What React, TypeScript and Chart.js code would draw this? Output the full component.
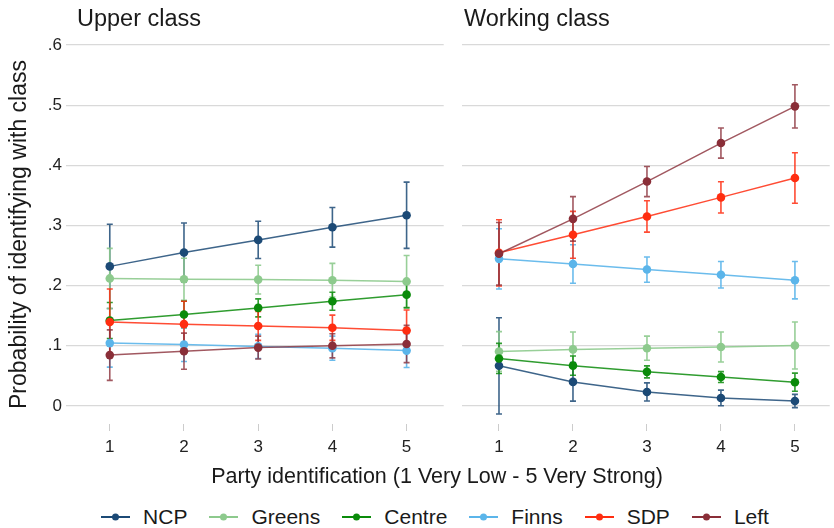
import React, { useEffect, useRef } from 'react';
import { Chart, registerables } from 'chart.js';

Chart.register(...registerables);

// ---------- data ----------
const parties = ['NCP', 'Greens', 'Centre', 'Finns', 'SDP', 'Left'];
const partyColors = ['#1c4a76', '#8dca8d', '#0a8b0a', '#5bb5ea', '#ff2d10', '#8a2e38'];
const partyLineColors = ['rgba(28,74,118,0.85)', 'rgba(141,202,141,0.9)', 'rgba(10,139,10,0.85)', 'rgba(91,181,234,0.9)', 'rgba(255,45,16,0.85)', 'rgba(138,46,56,0.8)'];
const xValues = [1, 2, 3, 4, 5];
const yTicks = [0, 0.1, 0.2, 0.3, 0.4, 0.5, 0.6];
const panelTitles = ['Upper class', 'Working class'];
const yAxisTitle = 'Probability of identifying with class';
const xAxisTitle = 'Party identification (1 Very Low - 5 Very Strong)';

// Upper class: predicted probabilities and CI half-widths
const upNCP = [0.232, 0.255, 0.276, 0.297, 0.317];
const upNCPci = [0.07, 0.049, 0.031, 0.033, 0.055];
const upGreens = [0.212, 0.2105, 0.21, 0.209, 0.207];
const upGreensCi = [0.05, 0.035, 0.024, 0.028, 0.043];
const upCentre = [0.142, 0.152, 0.163, 0.174, 0.185];
const upCentreCi = [0.03, 0.022, 0.015, 0.015, 0.022];
const upFinns = [0.1045, 0.102, 0.099, 0.096, 0.092];
const upFinnsCi = [0.04, 0.028, 0.02, 0.02, 0.028];
const upSDP = [0.1395, 0.136, 0.133, 0.13, 0.1255];
const upSDPci = [0.055, 0.038, 0.024, 0.021, 0.034];
const upLeft = [0.0845, 0.091, 0.097, 0.1, 0.103];
const upLeftCi = [0.042, 0.03, 0.019, 0.02, 0.031];

// Working class
const wkNCP = [0.0667, 0.04, 0.0233, 0.0133, 0.0083];
const wkNCPci = [0.08, 0.032, 0.015, 0.013, 0.011];
const wkGreens = [0.0905, 0.094, 0.096, 0.098, 0.1005];
const wkGreensCi = [0.033, 0.029, 0.02, 0.025, 0.039];
const wkCentre = [0.079, 0.067, 0.0567, 0.048, 0.0395];
const wkCentreCi = [0.025, 0.016, 0.01, 0.009, 0.015];
const wkFinns = [0.2445, 0.236, 0.2267, 0.218, 0.209];
const wkFinnsCi = [0.05, 0.032, 0.021, 0.022, 0.031];
const wkSDP = [0.2545, 0.2845, 0.315, 0.3467, 0.379];
const wkSDPci = [0.055, 0.039, 0.026, 0.026, 0.042];
const wkLeft = [0.253, 0.311, 0.373, 0.437, 0.498];
const wkLeftCi = [0.052, 0.037, 0.025, 0.025, 0.036];

const upperMeans = [upNCP, upGreens, upCentre, upFinns, upSDP, upLeft];
const upperCis = [upNCPci, upGreensCi, upCentreCi, upFinnsCi, upSDPci, upLeftCi];
const workingMeans = [wkNCP, wkGreens, wkCentre, wkFinns, wkSDP, wkLeft];
const workingCis = [wkNCPci, wkGreensCi, wkCentreCi, wkFinnsCi, wkSDPci, wkLeftCi];

const FONT = '"Liberation Sans", Arial, Helvetica, sans-serif';
const CANVAS_H = 466;

const errorBarPlugin = {
  id: 'errorBars',
  beforeDatasetsDraw(chart: any) {
    const ctx = chart.ctx;
    const yScale = chart.scales.y;
    const n = chart.data.datasets.length;
    for (let i = 0; i < n; i++) {
      const ds: any = chart.data.datasets[i];
      const errs = ds.errors;
      if (!errs) continue;
      const meta = chart.getDatasetMeta(i);
      ctx.save();
      ctx.strokeStyle = ds.errorColor;
      ctx.lineWidth = 1.6;
      meta.data.forEach((pt: any, j: number) => {
        const v = ds.data[j].y;
        const yTop = yScale.getPixelForValue(v + errs[j]);
        const yBot = yScale.getPixelForValue(v - errs[j]);
        const x = pt.x;
        ctx.beginPath();
        ctx.moveTo(x, yTop);
        ctx.lineTo(x, yBot);
        ctx.moveTo(x - 3, yTop);
        ctx.lineTo(x + 3, yTop);
        ctx.moveTo(x - 3, yBot);
        ctx.lineTo(x + 3, yBot);
        ctx.stroke();
      });
      ctx.restore();
    }
  },
};

function Panel(props: {
  means: number[][];
  cis: number[][];
  xMin: number;
  xMax: number;
  yAxisWidth: number;
  showYLabels: boolean;
  width: number;
  left: number;
}) {
  const ref = useRef<HTMLCanvasElement | null>(null);
  useEffect(() => {
    const { means, cis, xMin, xMax, yAxisWidth, showYLabels } = props;
    const datasets = parties.map((p, i) => ({
      label: p,
      data: xValues.map((x, j) => ({ x, y: means[i][j] })),
      errors: cis[i],
      errorColor: partyLineColors[i],
      borderColor: partyLineColors[i],
      backgroundColor: partyColors[i],
      pointBackgroundColor: partyColors[i],
      pointBorderColor: partyColors[i],
      pointRadius: 4.3,
      pointBorderWidth: 0,
      borderWidth: 1.5,
      order: parties.length - i,
      tension: 0,
    }));
    const chart = new Chart(ref.current as HTMLCanvasElement, {
      type: 'line',
      data: { datasets: datasets as any },
      options: {
        animation: false,
        responsive: false,
        devicePixelRatio: 1,
        layout: { padding: { top: 45, left: 0, right: 0, bottom: 0 } },
        plugins: { legend: { display: false }, tooltip: { enabled: false }, title: { display: false } },
        scales: {
          x: {
            type: 'linear',
            min: xMin,
            max: xMax,
            afterBuildTicks: (s: any) => {
              s.ticks = xValues.map((v) => ({ value: v }));
            },
            afterFit: (s: any) => {
              s.height = 42;
            },
            grid: { drawOnChartArea: false, drawTicks: true, tickLength: 7, color: '#cccccc', lineWidth: 1 },
            border: { display: false },
            ticks: {
              padding: 6,
              color: '#222222',
              maxRotation: 0,
              autoSkip: false,
              font: { family: FONT, size: 17 },
              callback: (v: any) => String(v),
            },
          },
          y: {
            type: 'linear',
            min: -0.03,
            max: 0.6,
            afterBuildTicks: (s: any) => {
              s.ticks = yTicks.map((v) => ({ value: v }));
            },
            afterFit: (s: any) => {
              s.width = yAxisWidth;
            },
            grid: { drawTicks: false, color: '#d9d9d9', lineWidth: 1.2 },
            border: { display: false },
            ticks: {
              display: showYLabels,
              padding: 4,
              color: '#222222',
              font: { family: FONT, size: 17 },
              callback: (v: any) => (v === 0 ? '0' : Number(v).toFixed(1).replace(/^0/, '')),
            },
            title: {
              display: showYLabels,
              text: yAxisTitle,
              color: '#1a1a1a',
              font: { family: FONT, size: 23 },
              padding: 6,
            },
          },
        },
      },
      plugins: [errorBarPlugin],
    });
    return () => chart.destroy();
  }, []);
  return (
    <canvas
      ref={ref}
      width={props.width}
      height={CANVAS_H}
      style={{ position: 'absolute', left: props.left, top: 0, width: props.width, height: CANVAS_H }}
    />
  );
}

function LegendItem({ label, color, last }: { label: string; color: string; last: boolean }) {
  return (
    <div style={{ display: 'flex', alignItems: 'center', marginRight: last ? 0 : 22 }}>
      <svg width={29} height={24} style={{ display: 'block' }}>
        <line x1={0} y1={12} x2={29} y2={12} stroke={color} strokeWidth={2} />
        <circle cx={14.5} cy={12} r={3.5} fill={color} />
      </svg>
      <span style={{ marginLeft: 13 }}>{label}</span>
    </div>
  );
}

export default function App() {
  return (
    <div
      style={{
        position: 'fixed',
        left: 0,
        top: 0,
        width: 834,
        height: 528,
        background: '#ffffff',
        overflow: 'hidden',
        fontFamily: FONT,
        color: '#1a1a1a',
      }}
    >
      <Panel means={upperMeans} cis={upperCis} xMin={0.41} xMax={5.5} yAxisWidth={66} showYLabels={true} width={448} left={0} />
      <Panel means={workingMeans} cis={workingCis} xMin={0.5} xMax={5.47} yAxisWidth={14} showYLabels={false} width={386} left={448} />
      <div style={{ position: 'absolute', left: 77, top: 5, fontSize: 23.5, lineHeight: '26px', whiteSpace: 'nowrap' }}>
        {panelTitles[0]}
      </div>
      <div style={{ position: 'absolute', left: 464, top: 5, fontSize: 23.5, lineHeight: '26px', whiteSpace: 'nowrap' }}>
        {panelTitles[1]}
      </div>
      <div
        style={{
          position: 'absolute',
          left: 0,
          width: 874,
          top: 464,
          textAlign: 'center',
          fontSize: 21.5,
          lineHeight: '24px',
          whiteSpace: 'nowrap',
        }}
      >
        {xAxisTitle}
      </div>
      <div
        style={{
          position: 'absolute',
          left: 0,
          width: 870,
          top: 505,
          display: 'flex',
          justifyContent: 'center',
          fontSize: 21,
          lineHeight: '24px',
          whiteSpace: 'nowrap',
        }}
      >
        {parties.map((p, i) => (
          <LegendItem key={p} label={p} color={partyColors[i]} last={i === parties.length - 1} />
        ))}
      </div>
    </div>
  );
}
